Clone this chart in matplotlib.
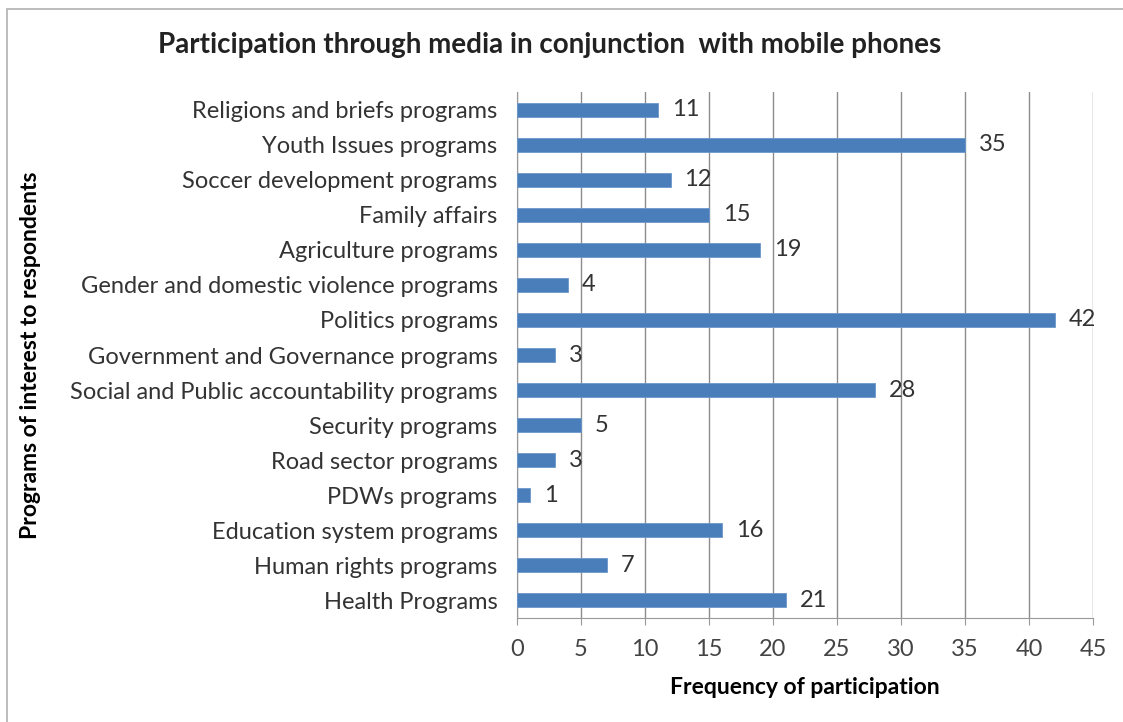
import matplotlib.pyplot as plt
from matplotlib.patches import Rectangle

plt.rcParams['font.family'] = ['Lato', 'DejaVu Sans']

programs = ['Religions and briefs programs', 'Youth Issues programs', 'Soccer development programs',
            'Family affairs', 'Agriculture programs', 'Gender and domestic violence programs',
            'Politics programs', 'Government and Governance programs',
            'Social and Public accountability programs', 'Security programs', 'Road sector programs',
            'PDWs programs', 'Education system programs', 'Human rights programs', 'Health Programs']
frequency = [11, 35, 12, 15, 19, 4, 42, 3, 28, 5, 3, 1, 16, 7, 21]
xticks = [0, 5, 10, 15, 20, 25, 30, 35, 40, 45]

fig = plt.figure(figsize=(11.23, 7.22), dpi=100)
# chart area frame
fig.patches.append(Rectangle((7 / 1123, -0.1), 1.2, 1 - 9 / 722 + 0.1, transform=fig.transFigure,
                             fill=False, edgecolor='#b0b0b0', linewidth=1.2))

ax = fig.add_axes([517 / 1123, 1 - 618 / 722, 576 / 1123, 526 / 722])
pos = list(range(len(programs)))[::-1]
ax.barh(pos, frequency, height=0.4, color='#4a7ebb', edgecolor='#6b97cc', linewidth=0.6, zorder=3)
for p, v in zip(pos, frequency):
    ax.annotate(str(v), (v, p), xytext=(10, 0), textcoords='offset points',
                va='center', ha='left', fontsize=17, color='#333333')

ax.set_xlim(0, 45)
ax.set_ylim(-0.5, len(programs) - 0.5)
ax.set_xticks(xticks)
ax.set_yticks(pos)
ax.set_yticklabels(programs, fontsize=17, color='#333333')
ax.tick_params(axis='x', labelsize=17, labelcolor='#444444', length=5, color='#999999', pad=10)
ax.tick_params(axis='y', length=0, pad=14)
ax.grid(axis='x', color='#8c8c8c', linewidth=1.0, zorder=0)
for s in ['top', 'right']:
    ax.spines[s].set_visible(False)
ax.spines['left'].set_color('#999999')
ax.spines['bottom'].set_color('#999999')

ax.set_xlabel('Frequency of participation', fontsize=16.5, fontweight='bold', labelpad=12)
fig.text(31 / 1123, 1 - 355 / 722, 'Programs of interest to respondents', rotation=90,
         ha='center', va='center', fontsize=16.5, fontweight='bold')
fig.text(550 / 1123, 1 - 45 / 722, 'Participation through media in conjunction  with mobile phones',
         ha='center', va='center', fontsize=20, fontweight='bold', color='#222222')

fig.savefig('out.png', dpi=100)
